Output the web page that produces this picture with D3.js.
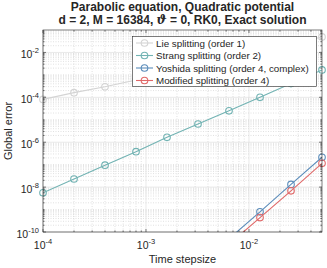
<!DOCTYPE html>
<html>
<head>
<meta charset="utf-8">
<script src="https://cdn.jsdelivr.net/npm/d3@7"></script>
<style>
  body { margin: 0; background: #fff; }
  text { font-family: "Liberation Sans", Arial, Helvetica, sans-serif; fill: #262626; }
</style>
</head>
<body>
<script>
// step sizes (doubling) and global errors
var stepsizes = [1e-4, 2e-4, 4e-4, 8e-4, 1.6e-3, 3.2e-3, 6.4e-3, 1.28e-2, 2.56e-2, 5.12e-2];
var lieErr = [8.1e-5, 1.62e-4, 2.95e-4, 5.9e-4, 1.2e-3, 2.5e-3, 5.1e-3, 1.1e-2, 2.4e-2, 4.9e-2];
var strangErr = [5.6e-9, 2.3e-8, 9.5e-8, 3.8e-7, 1.66e-6, 6.5e-6, 2.5e-5, 1.0e-4, 4.1e-4, 1.66e-3];
var yoshidaErr = [null, null, null, null, null, null, 5.0e-11, 7.9e-10, 1.32e-8, 2.14e-7];
var modifiedErr = [null, null, null, null, null, null, 2.8e-11, 4.4e-10, 6.8e-9, 1.15e-7];

var seriesNames = ["Lie splitting (order 1)", "Strang splitting (order 2)",
  "Yoshida splitting (order 4, complex)", "Modified splitting (order 4)"];
var seriesColors = ["#d4d4d4", "#72b3b3", "#5b8cba", "#e06868"];

var xTicks = [1e-4, 1e-3, 1e-2];
var xTickExp = ["-4", "-3", "-2"];
var yTicks = [1e-10, 1e-8, 1e-6, 1e-4, 1e-2];
var yTickExp = ["-10", "-8", "-6", "-4", "-2"];

var titleLines = ["Parabolic equation, Quadratic potential"];

window.onload = function(){
  var w = 327, h = 268;
  var m = {left: 43, right: 5, top: 30, bottom: 36};

  var svg = d3.select("body").append("svg")
    .attr("width", w)
    .attr("height", h);

  var x = d3.scaleLog().domain([1e-4, 5.12e-2]).range([m.left, w - m.right]);
  var y = d3.scaleLog().domain([1e-10, 1e-1]).range([h - m.bottom, m.top]);

  var x0 = x.range()[0], x1 = x.range()[1];
  var y0 = y.range()[0], y1 = y.range()[1];

  svg.append("defs").append("clipPath").attr("id", "plotclip")
    .append("rect")
    .attr("x", x0).attr("y", y1)
    .attr("width", x1 - x0).attr("height", y0 - y1);

  // minor + major ticks
  var xMinor = [], yMinor = [];
  for (var e = -4; e <= -2; e++) {
    for (var k = 2; k <= 9; k++) {
      var v = k * Math.pow(10, e);
      if (v <= 5.12e-2) xMinor.push(v);
    }
  }
  for (var e2 = -10; e2 <= -2; e2++) {
    for (var k2 = 1; k2 <= 9; k2++) {
      if (k2 == 1 && e2 % 2 == 0) continue;
      yMinor.push(k2 * Math.pow(10, e2));
    }
  }

  var grid = svg.append("g");
  grid.selectAll(".xminor").data(xMinor).enter().append("line")
    .attr("x1", function(d){ return x(d); }).attr("x2", function(d){ return x(d); })
    .attr("y1", y0).attr("y2", y1)
    .style("stroke", "#cdcdcd").style("stroke-width", 0.6).style("stroke-dasharray", "1,1.5");
  grid.selectAll(".yminor").data(yMinor).enter().append("line")
    .attr("y1", function(d){ return y(d); }).attr("y2", function(d){ return y(d); })
    .attr("x1", x0).attr("x2", x1)
    .style("stroke", "#cdcdcd").style("stroke-width", 0.6).style("stroke-dasharray", "1,1.5");
  grid.selectAll(".xmajor").data(xTicks).enter().append("line")
    .attr("x1", function(d){ return x(d); }).attr("x2", function(d){ return x(d); })
    .attr("y1", y0).attr("y2", y1)
    .style("stroke", "#dadada").style("stroke-width", 0.6);
  grid.selectAll(".ymajor").data(yTicks).enter().append("line")
    .attr("y1", function(d){ return y(d); }).attr("y2", function(d){ return y(d); })
    .attr("x1", x0).attr("x2", x1)
    .style("stroke", "#dadada").style("stroke-width", 0.6);

  // series
  var allSeries = [lieErr, strangErr, yoshidaErr, modifiedErr];
  var line = d3.line()
    .defined(function(d){ return d[1] != null; })
    .x(function(d){ return x(d[0]); })
    .y(function(d){ return y(d[1]); });

  allSeries.forEach(function(errs, i){
    var pts = stepsizes.map(function(s, j){ return [s, errs[j]]; });
    svg.append("path")
      .datum(pts)
      .attr("clip-path", "url(#plotclip)")
      .attr("d", line)
      .style("fill", "none")
      .style("stroke", seriesColors[i])
      .style("stroke-width", 1.1);
    svg.selectAll(".pt" + i)
      .data(pts.filter(function(d){ return d[1] != null && d[1] >= 1e-10; }))
      .enter().append("circle")
      .attr("cx", function(d){ return x(d[0]); })
      .attr("cy", function(d){ return y(d[1]); })
      .attr("r", 3.3)
      .style("fill", "none")
      .style("stroke", seriesColors[i])
      .style("stroke-width", 1.1);
  });

  // axes box with inward ticks
  var ax = svg.append("g").style("stroke", "#262626").style("stroke-width", 0.6);
  ax.append("rect").attr("x", x0).attr("y", y1)
    .attr("width", x1 - x0).attr("height", y0 - y1)
    .style("fill", "none");
  xTicks.forEach(function(d){
    ax.append("line").attr("x1", x(d)).attr("x2", x(d)).attr("y1", y0).attr("y2", y0 - 3);
    ax.append("line").attr("x1", x(d)).attr("x2", x(d)).attr("y1", y1).attr("y2", y1 + 3);
  });
  xMinor.forEach(function(d){
    ax.append("line").attr("x1", x(d)).attr("x2", x(d)).attr("y1", y0).attr("y2", y0 - 1.6);
    ax.append("line").attr("x1", x(d)).attr("x2", x(d)).attr("y1", y1).attr("y2", y1 + 1.6);
  });
  yTicks.forEach(function(d){
    ax.append("line").attr("y1", y(d)).attr("y2", y(d)).attr("x1", x0).attr("x2", x0 + 3);
    ax.append("line").attr("y1", y(d)).attr("y2", y(d)).attr("x1", x1).attr("x2", x1 - 3);
  });
  yMinor.forEach(function(d){
    ax.append("line").attr("y1", y(d)).attr("y2", y(d)).attr("x1", x0).attr("x2", x0 + 1.6);
    ax.append("line").attr("y1", y(d)).attr("y2", y(d)).attr("x1", x1).attr("x2", x1 - 1.6);
  });

  // tick labels
  xTicks.forEach(function(d, i){
    var t = svg.append("text")
      .attr("x", x(d)).attr("y", y0 + 17)
      .attr("text-anchor", "middle")
      .style("font-size", "10.5px");
    t.append("tspan").text("10");
    t.append("tspan").attr("dy", -5).style("font-size", "7.5px").text(xTickExp[i]);
  });
  yTicks.forEach(function(d, i){
    var t = svg.append("text")
      .attr("x", x0 - 4).attr("y", y(d) + 5.5)
      .attr("text-anchor", "end")
      .style("font-size", "10.5px");
    t.append("tspan").text("10");
    t.append("tspan").attr("dy", -5).style("font-size", "7.5px").text(yTickExp[i]);
  });

  // axis labels
  svg.append("text")
    .attr("x", (x0 + x1) / 2).attr("y", 263)
    .attr("text-anchor", "middle")
    .style("font-size", "11px")
    .text("Time stepsize");
  svg.append("text")
    .attr("transform", "translate(12," + (y0 + y1) / 2 + ") rotate(-90)")
    .attr("text-anchor", "middle")
    .style("font-size", "11px")
    .text("Global error");

  // title
  var tx = (x0 + x1) / 2;
  svg.append("text")
    .attr("x", tx).attr("y", 10.5)
    .attr("text-anchor", "middle")
    .style("font-size", "12px").style("font-weight", "bold")
    .text(titleLines[0]);
  var t2 = svg.append("text")
    .attr("x", tx).attr("y", 24.3)
    .attr("text-anchor", "middle")
    .style("font-size", "12px").style("font-weight", "bold");
  t2.append("tspan").text("d = 2, M = 16384, ");
  t2.append("tspan").style("font-style", "italic").style("font-family", "DejaVu Serif, serif").text("\u03D1");
  t2.append("tspan").text(" = 0, RK0, Exact solution");

  // legend
  var lg = svg.append("g");
  lg.append("rect")
    .attr("x", 132.5).attr("y", 36.5)
    .attr("width", 184).attr("height", 50)
    .style("fill", "#fff")
    .style("stroke", "#262626").style("stroke-width", 0.6);
  seriesNames.forEach(function(name, i){
    var ry = 43 + i * 12.5;
    lg.append("line").attr("x1", 136).attr("x2", 153).attr("y1", ry).attr("y2", ry)
      .style("stroke", seriesColors[i]).style("stroke-width", 1.1);
    lg.append("circle").attr("cx", 144.5).attr("cy", ry).attr("r", 3.3)
      .style("fill", "none").style("stroke", seriesColors[i]).style("stroke-width", 1.1);
    lg.append("text").attr("x", 156).attr("y", ry + 3.5)
      .style("font-size", "9.8px")
      .text(name);
  });
};
</script>
</body>
</html>
